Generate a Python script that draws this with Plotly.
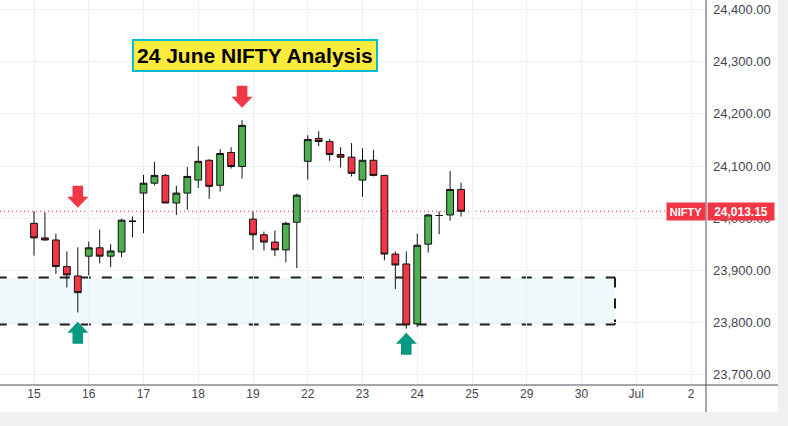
import plotly.graph_objects as go

# ---------------- data ----------------
idx = list(range(40))
opens = [23990, 23962, 23958, 23907, 23889, 23927, 23943, 23927, 23935, 23994,
         24048, 24067, 24082, 24029, 24048, 24073, 24111, 24063, 24126, 24099,
         23998, 23968, 23954, 23939, 23992, 24109, 24153, 24147, 24122, 24117,
         24073, 24111, 24082, 23931, 23912, 23797, 23950, 24005, 24006, 24055]
highs = [24013, 24011, 23970, 23936, 23944, 23955, 23978, 23950, 23999, 24003,
         24083, 24108, 24085, 24062, 24098, 24138, 24113, 24132, 24136, 24188,
         24013, 23974, 23976, 23993, 24047, 24159, 24167, 24152, 24136, 24144,
         24134, 24131, 24083, 23936, 23936, 23970, 24008, 24013, 24090, 24068]
lows = [23928, 23957, 23893, 23867, 23819, 23890, 23913, 23906, 23925, 23963,
        23971, 24063, 24029, 24006, 24016, 24058, 24037, 24051, 24095, 24076,
        23939, 23938, 23927, 23915, 23904, 24074, 24138, 24110, 24097, 24080,
        24041, 24080, 23919, 23864, 23788, 23791, 23934, 23969, 23995, 24003]
closes = [23962, 23958, 23907, 23891, 23857, 23943, 23927, 23937, 23996, 23994,
          24067, 24082, 24029, 24048, 24080, 24109, 24061, 24124, 24099, 24178,
          23968, 23954, 23939, 23990, 24044, 24151, 24147, 24122, 24117, 24086,
          24111, 24082, 23931, 23910, 23795, 23948, 24006, 24005, 24055, 24013.15]

date_tick_idx = [0, 5, 10, 15, 20, 25, 30, 35, 40, 45, 50, 55, 60]
date_tick_text = ["15", "16", "17", "18", "19", "22", "23", "24", "25", "29", "30", "Jul", "2"]

price_ticks = [23700, 23800, 23900, 24000, 24100, 24200, 24300, 24400]
price_tick_text = [f"{v:,.2f}" for v in price_ticks]

last_price = 24013.15
symbol = "NIFTY"
title_text = "24 June NIFTY Analysis"

zone_low = 23796
zone_high = 23886
zone_start_idx = -3.4
zone_end_idx = 53.06

arrow_idx = [4, 19, 4, 34]
arrow_price = [24020, 24212, 23801, 23780]
arrow_dir = ["down", "down", "up", "up"]

# ---------------- style ----------------
GREEN = "#4CAF50"
RED = "#F23645"
TEAL = "#089981"
GRID = "#E9EFF3"
AXIS = "#4A4E5A"
TXT = "#434651"
FONT = "Liberation Sans, Arial, sans-serif"

W, H = 788, 426
ML, MR, MT, MB = 0, 82, 0, 41
PW = W - ML - MR
PH = H - MT - MB

fig = go.Figure()
fig.add_trace(go.Candlestick(
    x=idx, open=opens, high=highs, low=lows, close=closes,
    increasing=dict(fillcolor=GREEN, line=dict(color="#111111", width=1)),
    decreasing=dict(fillcolor=RED, line=dict(color="#111111", width=1)),
    whiskerwidth=0, showlegend=False, hoverinfo="skip",
))

shapes = []
# demand zone: fill + dashed edges
dash_line = dict(color="#1E1E1E", width=2, dash="10px,11px")
shapes.append(dict(type="rect", xref="x", yref="y", x0=zone_start_idx, x1=zone_end_idx,
                   y0=zone_low, y1=zone_high, fillcolor="#EFF8FB",
                   line=dict(width=0), layer="below"))
shapes.append(dict(type="line", xref="x", yref="y", x0=zone_start_idx, x1=zone_end_idx,
                   y0=zone_high, y1=zone_high, line=dash_line, layer="below"))
shapes.append(dict(type="line", xref="x", yref="y", x0=zone_start_idx, x1=zone_end_idx,
                   y0=zone_low, y1=zone_low, line=dash_line, layer="below"))
shapes.append(dict(type="line", xref="x", yref="y", x0=zone_end_idx, x1=zone_end_idx,
                   y0=zone_high, y1=zone_low, line=dash_line, layer="below"))
# last price dotted line
shapes.append(dict(type="line", xref="paper", yref="y", x0=0, x1=1,
                   y0=last_price, y1=last_price,
                   line=dict(color=RED, width=1, dash="1px,3px"), layer="between"))
# arrows
down_path = "M 0 0 L -10.5 11 L -5.3 11 L -5.3 22 L 5.3 22 L 5.3 11 L 10.5 11 Z"
up_path = "M 0 0 L -10.5 -11 L -5.3 -11 L -5.3 -22 L 5.3 -22 L 5.3 -11 L 10.5 -11 Z"
for i, p, d in zip(arrow_idx, arrow_price, arrow_dir):
    shapes.append(dict(type="path", xref="x", yref="y", xsizemode="pixel",
                       ysizemode="pixel", xanchor=i, yanchor=p,
                       path=down_path if d == "down" else up_path,
                       fillcolor=RED if d == "down" else TEAL,
                       line=dict(width=0), layer="above"))
# frame lines / outer border
x_right = 778 / PW
y_bot = 1 - (412 - MT) / PH
y_img_bot = 1 - (H - MT) / PH
shapes.append(dict(type="rect", xref="paper", yref="paper", x0=x_right, x1=W / PW + 0.05,
                   y0=y_img_bot - 0.05, y1=1.05, fillcolor="#F0F1F3", line=dict(width=0)))
shapes.append(dict(type="rect", xref="paper", yref="paper", x0=-0.05, x1=W / PW + 0.05,
                   y0=y_img_bot - 0.05, y1=y_bot, fillcolor="#F0F1F3", line=dict(width=0)))
shapes.append(dict(type="line", xref="paper", yref="paper", x0=0, x1=x_right,
                   y0=0, y1=0, line=dict(color=AXIS, width=1)))
shapes.append(dict(type="line", xref="paper", yref="paper", x0=1, x1=1,
                   y0=y_bot, y1=1, line=dict(color=AXIS, width=1)))

annotations = [
    dict(xref="paper", yref="paper", x=255 / PW, y=1 - 55.5 / PH,
         xanchor="center", yanchor="middle", showarrow=False,
         text=f"<b>{title_text}</b>",
         font=dict(family=FONT, size=21, color="#000000"),
         bgcolor="#FFEB3B", bordercolor="#00BCD4", borderwidth=2, borderpad=3),
    dict(xref="paper", yref="y", x=1 - 0.5 / PW, y=last_price,
         xanchor="right", yanchor="middle", showarrow=False,
         text=f"<b>{symbol}</b>", font=dict(family=FONT, size=11, color="white"),
         bgcolor=RED, width=36, height=15, borderpad=1),
    dict(xref="paper", yref="y", x=1 + 1 / PW, y=last_price,
         xanchor="left", yanchor="middle", showarrow=False,
         text=f"<b>{last_price:,.2f}</b>", font=dict(family=FONT, size=12, color="white"),
         bgcolor=RED, width=64, height=15, borderpad=1),
]

fig.update_layout(
    width=W, height=H,
    margin=dict(l=ML, r=MR, t=MT, b=MB),
    paper_bgcolor="white", plot_bgcolor="white",
    shapes=shapes, annotations=annotations,
    boxgap=0.38, boxgroupgap=0,
    showlegend=False,
    xaxis=dict(range=[-3.105, 61.37], tickmode="array", tickvals=date_tick_idx,
               ticktext=date_tick_text, showgrid=True, gridcolor=GRID, gridwidth=1,
               zeroline=False, showline=False, ticks="",
               tickfont=dict(family=FONT, size=12, color=TXT),
               rangeslider=dict(visible=False), fixedrange=True),
    yaxis=dict(range=[23679.7, 24418.6], side="right", tickmode="array",
               tickvals=price_ticks, ticktext=price_tick_text,
               showgrid=True, gridcolor=GRID, gridwidth=1, zeroline=False,
               showline=False, ticks="", ticklabelstandoff=6,
               tickfont=dict(family=FONT, size=13, color=TXT), fixedrange=True),
)

fig.write_html("out.html")
